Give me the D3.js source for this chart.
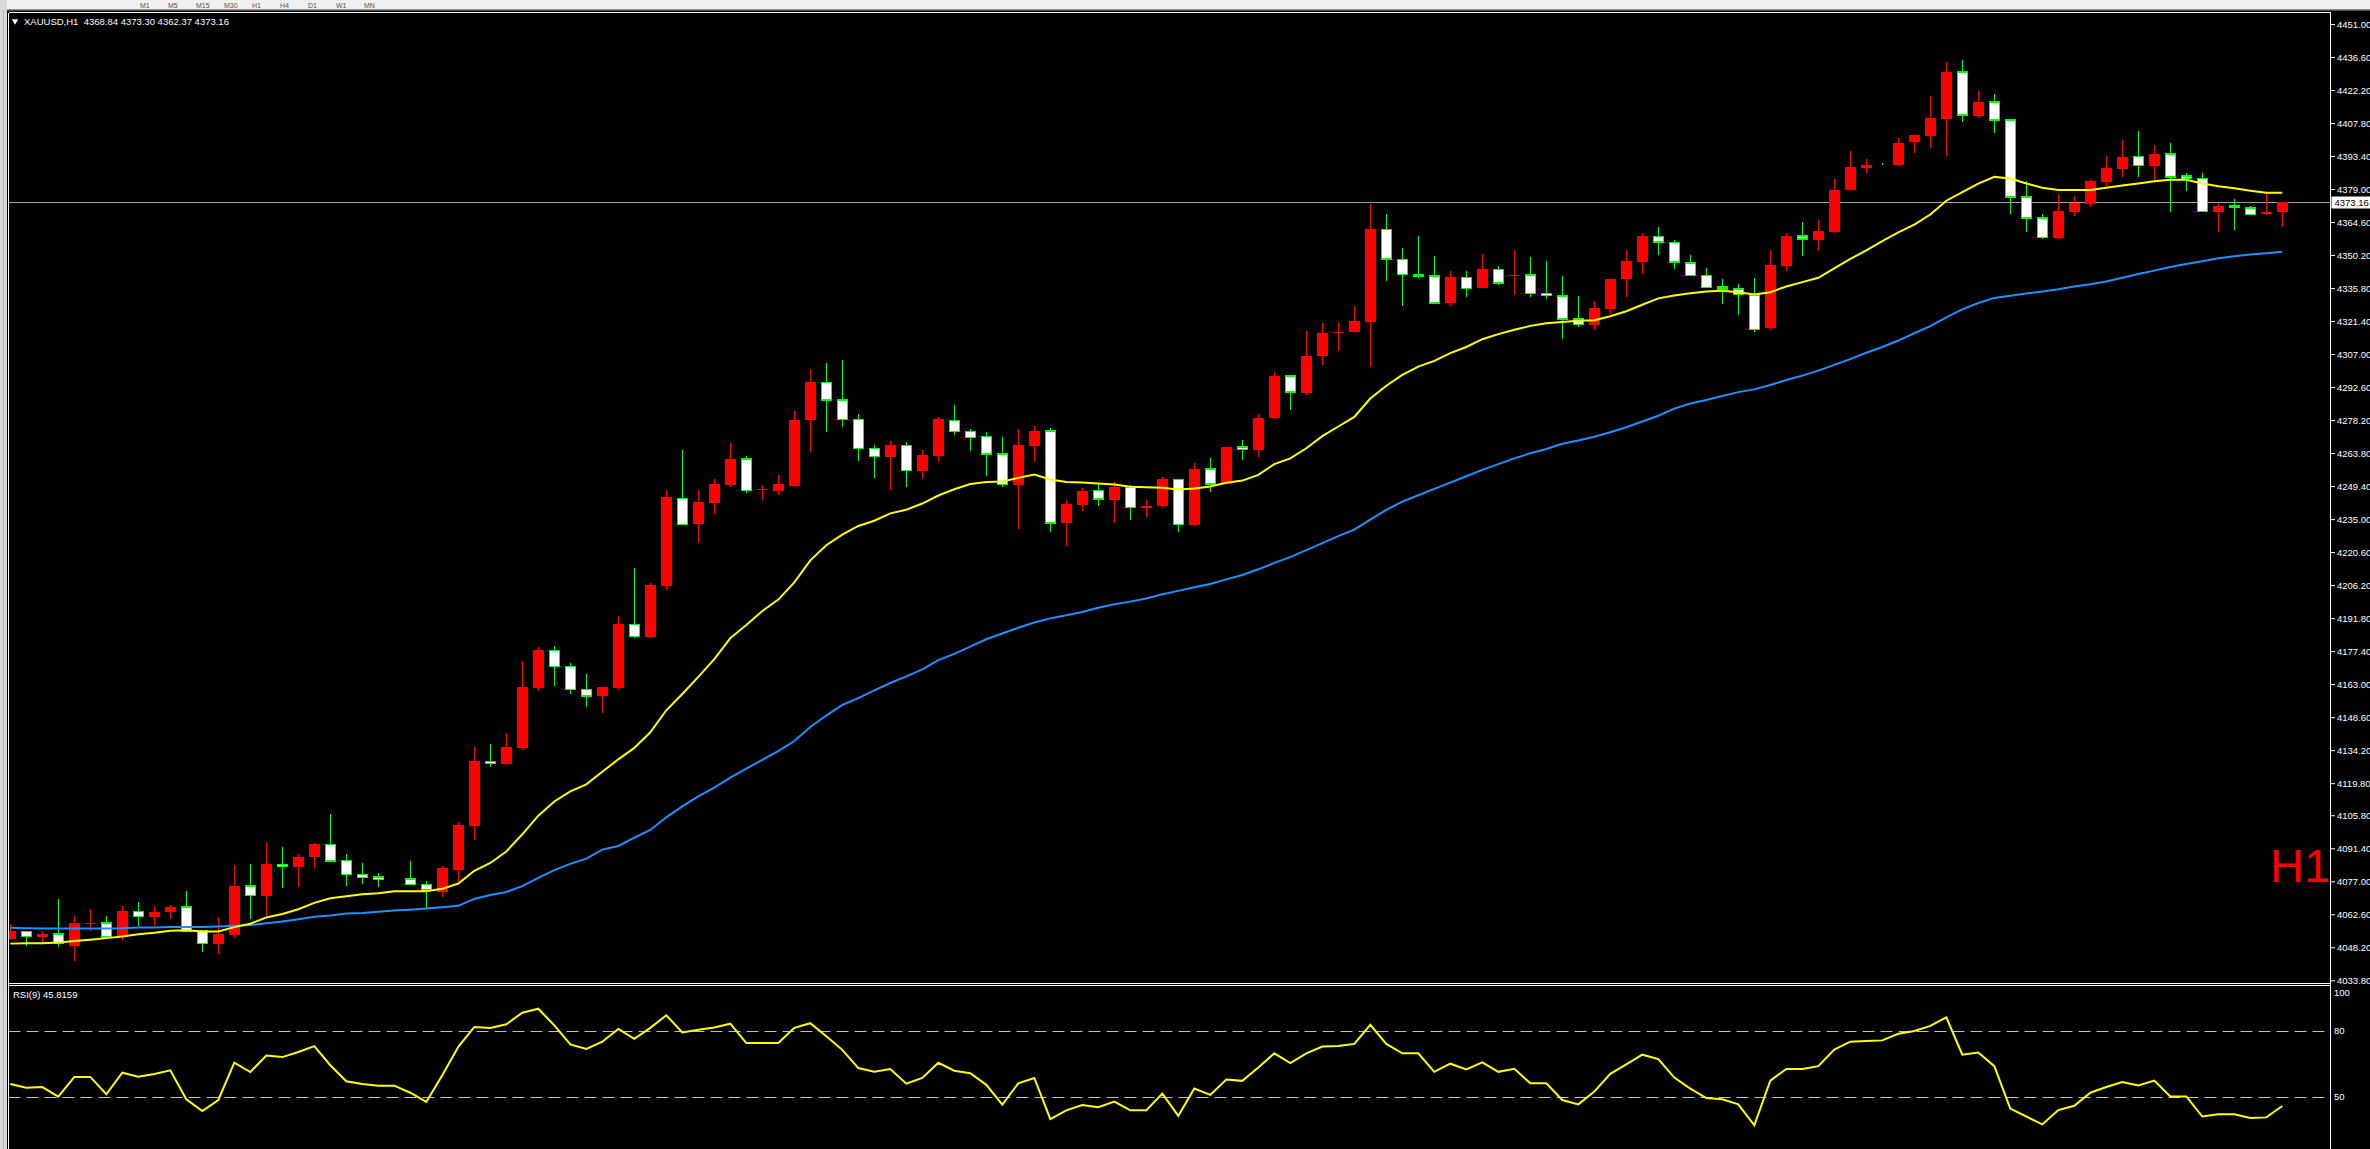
<!DOCTYPE html>
<html>
<head>
<meta charset="utf-8">
<script src="https://cdn.jsdelivr.net/npm/d3@7"></script>
<style>
  html, body { margin: 0; padding: 0; background: #000; overflow: hidden; }
  svg { display: block; }
  text { font-family: "Liberation Sans", Arial, sans-serif; }
</style>
</head>
<body>
<svg id="chart" width="2370" height="1149"></svg>
<script>
// ---- data (H1 bars, oldest first) ----
var symbolName = "XAUUSD,H1";
var lastBar = ["4368.84", "4373.30", "4362.37", "4373.16"];
var bidPrice = 4373.16;
var rsiName = "RSI(9)";
var rsiLast = "45.8159";
var tfLabel = "H1";

var opens = [
  4051.8,4055.1,4052.8,4053.9,4048.9,4058.6,4058.7,4053.1,4063.8,4061.5,4063.4,4065.7,4055.4,4049.8,4053.7,4074.9,4070.5,4084.4,4083.3,4087.4,
  4093.1,4086.1,4080.0,4078.8,4077.9,4077.9,4075.7,4072.4,4082.1,4101.1,4129.3,4128.2,4135.2,4161.4,4177.7,4170.7,4160.7,4157.9,4161.2,4189.0,
  4183.7,4205.8,4244.1,4233.0,4242.1,4249.8,4261.2,4247.7,4247.1,4249.6,4278.1,4294.7,4287.0,4278.5,4265.8,4262.1,4267.1,4256.2,4262.6,4278.1,
  4273.3,4271.0,4263.3,4250.0,4267.1,4273.5,4233.4,4241.2,4247.5,4243.4,4249.1,4240.0,4240.7,4252.3,4232.3,4256.8,4250.4,4266.5,4265.1,4279.0,
  4297.4,4290.1,4306.3,4316.0,4316.8,4321.2,4361.3,4348.2,4341.8,4341.0,4329.3,4340.4,4335.7,4344.0,4341.0,4341.6,4333.5,4332.4,4322.4,4319.9,
  4326.5,4339.6,4347.1,4358.2,4355.7,4346.8,4341.2,4336.2,4335.4,4332.8,4318.3,4345.6,4358.5,4356.9,4360.4,4378.6,4388.3,4389.9,4389.6,4399.7,
  4402.2,4409.7,4430.1,4411.0,4416.9,4409.1,4375.5,4366.4,4357.6,4369.2,4372.3,4382.1,4387.7,4393.1,4389.0,4394.3,4384.6,4383.6,4369.2,4371.7,
  4370.8,4368.2,4368.84
];
var highs = [
  4058.2,4055.3,4055.1,4069.3,4061.8,4065.0,4061.8,4066.2,4067.9,4066.2,4066.6,4072.7,4055.7,4061.2,4084.1,4084.4,4094.1,4091.9,4088.8,4093.9,
  4106.4,4088.8,4085.0,4080.8,4078.0,4085.8,4077.2,4083.8,4102.8,4135.7,4136.9,4141.7,4173.1,4179.0,4179.8,4172.4,4167.5,4161.7,4192.6,4213.6,
  4207.0,4247.8,4265.1,4247.8,4252.6,4268.1,4262.6,4249.8,4254.2,4282.2,4300.4,4303.1,4304.5,4281.0,4267.4,4269.0,4268.7,4265.3,4279.4,4284.7,
  4274.2,4273.1,4270.8,4274.2,4275.8,4274.7,4243.4,4248.5,4250.3,4251.4,4249.8,4243.4,4253.5,4252.6,4259.6,4261.8,4266.5,4269.6,4281.0,4299.3,
  4297.9,4317.1,4320.4,4321.0,4327.9,4372.4,4368.2,4353.2,4358.5,4349.9,4343.2,4343.2,4350.7,4345.4,4352.4,4349.3,4347.4,4341.0,4332.4,4330.2,
  4339.9,4352.4,4359.9,4362.4,4356.8,4350.2,4344.6,4339.9,4337.7,4340.3,4352.2,4359.8,4364.8,4365.4,4383.3,4395.6,4392.1,4390.2,4401.2,4402.5,
  4419.5,4434.5,4435.2,4421.6,4420.4,4409.7,4382.7,4367.9,4377.0,4376.1,4383.0,4393.4,4400.3,4404.4,4398.1,4399.0,4386.2,4386.2,4373.0,4374.5,
  4371.7,4377.7,4373.30
];
var lows = [
  4051.5,4048.9,4050.4,4048.4,4042.2,4055.4,4052.6,4051.1,4057.3,4057.3,4060.6,4054.7,4046.1,4045.3,4052.3,4060.6,4061.3,4074.1,4074.6,4083.0,
  4085.9,4074.9,4076.0,4074.6,4077.8,4075.7,4065.4,4070.2,4076.9,4095.2,4126.8,4128.2,4134.4,4160.1,4162.2,4158.7,4153.1,4150.2,4160.5,4183.3,
  4183.7,4204.0,4232.3,4224.5,4237.1,4249.1,4246.6,4243.2,4245.7,4249.1,4264.4,4272.8,4275.1,4260.5,4253.0,4247.5,4249.1,4252.6,4259.8,4271.5,
  4264.9,4253.7,4249.1,4230.7,4259.8,4229.3,4223.4,4238.4,4240.7,4233.2,4234.8,4235.9,4240.0,4229.3,4231.8,4246.8,4250.4,4260.7,4262.1,4278.5,
  4282.6,4289.0,4302.4,4308.2,4316.8,4301.2,4339.0,4327.9,4340.4,4329.0,4327.9,4331.8,4335.7,4337.1,4332.6,4331.8,4331.0,4313.5,4319.0,4317.4,
  4324.3,4331.8,4342.1,4350.2,4344.0,4341.2,4336.0,4328.8,4324.0,4316.7,4317.7,4343.4,4350.0,4351.9,4359.8,4378.6,4385.8,4389.6,4389.0,4394.6,
  4396.8,4393.4,4408.1,4410.0,4403.4,4367.9,4360.1,4357.3,4357.0,4367.3,4371.1,4379.9,4384.3,4384.3,4382.4,4368.9,4378.3,4369.2,4360.4,4361.0,
  4367.9,4367.6,4362.37
];
var closes = [
  4055.1,4052.9,4054.0,4049.8,4058.9,4058.9,4052.6,4064.0,4061.7,4063.5,4065.7,4055.4,4049.8,4053.9,4074.9,4070.7,4084.6,4083.5,4087.5,4093.1,
  4085.9,4079.9,4078.6,4077.7,4077.9,4075.7,4073.2,4082.8,4101.5,4129.4,4128.3,4135.5,4161.7,4177.9,4170.6,4160.6,4157.9,4161.7,4189.2,4183.7,
  4206.3,4244.6,4232.7,4242.5,4250.3,4261.2,4247.5,4248.2,4250.3,4278.3,4294.7,4287.0,4278.5,4265.8,4262.4,4267.4,4256.2,4263.0,4278.8,4273.3,
  4270.6,4263.3,4250.0,4267.4,4273.5,4233.4,4241.6,4247.3,4243.7,4249.1,4240.0,4240.7,4252.6,4232.6,4256.8,4250.4,4266.5,4265.4,4279.0,4297.4,
  4290.4,4306.3,4316.2,4316.8,4321.5,4361.6,4348.5,4341.8,4341.0,4329.3,4340.7,4335.7,4344.0,4337.9,4341.5,4333.5,4332.6,4322.4,4319.9,4327.1,
  4339.9,4347.7,4358.5,4356.0,4347.1,4341.2,4336.0,4335.4,4332.9,4317.7,4345.9,4358.5,4357.2,4360.7,4378.6,4388.7,4389.6,4389.9,4399.0,4402.5,
  4410.0,4430.1,4411.3,4416.9,4409.1,4375.5,4366.4,4357.9,4369.5,4373.0,4382.4,4388.0,4393.1,4389.3,4394.3,4384.3,4383.6,4369.2,4371.7,4371.1,
  4367.9,4368.8,4373.16
];
// yellow moving average
var maFast = [
  4049.8,4050.0,4050.0,4050.3,4050.9,4051.5,4052.2,4052.9,4053.9,4054.5,4055.4,4055.6,4055.1,4055.1,4057.0,4058.5,4061.2,4062.7,4064.8,4067.6,
  4069.6,4070.5,4071.3,4071.8,4072.6,4072.7,4072.7,4073.7,4076.0,4081.6,4085.0,4090.0,4097.5,4105.6,4111.8,4116.2,4119.3,4124.8,4130.2,4135.2,
  4142.0,4151.6,4158.7,4166.2,4173.9,4183.1,4188.8,4194.9,4199.9,4207.4,4217.0,4223.6,4228.2,4232.0,4234.3,4237.5,4239.1,4241.8,4245.3,4248.0,
  4250.3,4251.2,4251.4,4253.0,4254.4,4252.3,4251.2,4251.0,4250.5,4250.1,4249.1,4248.9,4248.7,4247.9,4248.4,4249.2,4250.9,4251.8,4254.3,4259.0,
  4261.5,4265.9,4271.2,4275.4,4279.6,4287.6,4293.2,4297.9,4301.5,4304.0,4307.4,4310.1,4313.5,4315.7,4317.6,4319.3,4320.4,4321.0,4321.5,4321.8,
  4323.5,4325.7,4328.5,4331.3,4332.6,4333.5,4334.3,4334.6,4334.0,4333.0,4334.0,4336.5,4338.4,4340.3,4344.4,4348.5,4352.2,4356.3,4360.1,4363.5,
  4367.9,4373.9,4377.7,4381.4,4384.3,4383.6,4381.4,4379.6,4378.6,4378.6,4378.6,4379.6,4380.5,4381.4,4382.4,4383.0,4383.0,4381.4,4380.2,4379.3,
  4378.3,4377.4,4377.4
];
// blue moving average
var maSlow = [
  4056.7,4056.5,4056.4,4056.4,4056.4,4056.4,4056.4,4056.5,4056.8,4056.8,4057.0,4057.1,4057.1,4057.3,4057.6,4057.9,4058.7,4059.5,4060.4,4061.5,
  4062.1,4062.9,4063.2,4063.7,4064.2,4064.6,4065.1,4065.7,4066.3,4069.3,4071.0,4072.3,4074.9,4078.5,4081.9,4084.6,4086.9,4090.8,4092.4,4096.0,
  4099.4,4104.9,4109.7,4114.0,4117.9,4122.2,4126.1,4130.0,4133.8,4138.2,4144.3,4149.3,4153.9,4156.9,4160.3,4163.5,4166.4,4169.4,4173.5,4176.2,
  4179.4,4182.6,4185.1,4187.6,4189.9,4191.7,4193.1,4194.5,4196.3,4197.9,4199.0,4200.4,4202.2,4203.7,4205.3,4206.7,4208.7,4210.6,4213.1,4215.9,
  4218.4,4221.5,4224.5,4227.6,4230.4,4234.8,4239.0,4242.6,4245.4,4248.2,4250.9,4253.7,4256.5,4259.0,4261.5,4263.7,4265.6,4267.9,4269.3,4270.9,
  4272.9,4275.1,4277.6,4280.1,4283.2,4285.4,4287.0,4288.7,4290.4,4291.6,4293.5,4295.7,4297.6,4299.8,4302.3,4304.8,4307.6,4310.1,4312.9,4316.1,
  4319.2,4323.0,4326.5,4329.3,4331.5,4332.4,4333.4,4334.3,4335.3,4336.5,4337.5,4338.7,4340.3,4341.9,4343.4,4345.0,4346.3,4347.5,4348.8,4349.7,
  4350.4,4351.0,4351.6
];
var rsi9 = [
  55.8,54.1,54.4,50.0,59.0,59.0,51.1,60.9,59.1,60.3,62.0,48.8,43.5,48.5,65.5,61.2,68.7,68.0,70.3,73.0,
  64.3,57.0,55.8,55.0,55.0,51.8,47.6,59.7,72.7,81.7,81.2,82.9,88.2,90.0,82.4,73.8,71.7,75.0,80.8,76.3,
  81.3,87.0,79.2,80.4,81.5,83.2,74.4,74.4,74.4,81.3,83.4,77.5,71.3,63.0,61.4,62.6,55.9,58.5,65.4,61.8,
  60.7,55.4,46.4,56.1,58.5,39.8,43.8,46.2,45.2,47.8,43.8,43.8,51.4,41.3,53.7,50.8,57.8,57.2,63.3,69.7,
  65.3,69.7,72.8,73.1,74.0,82.7,74.0,69.7,69.7,61.3,65.0,62.4,65.6,61.3,62.7,56.1,56.1,48.5,46.5,52.3,
  60.4,64.7,69.1,67.1,58.7,53.7,49.4,48.8,46.5,37.0,57.3,62.6,62.6,63.9,71.4,75.0,75.3,75.6,78.6,79.9,
  82.2,86.1,69.1,70.1,63.9,44.6,41.0,37.4,43.9,45.9,51.8,54.4,56.7,55.1,57.3,50.1,50.1,41.0,42.0,42.0,
  40.3,40.6,45.8
];
var priceTicks = [4451.00,4436.60,4422.20,4407.80,4393.40,4379.00,4364.60,4350.20,4335.80,4321.40,
  4307.00,4292.60,4278.20,4263.80,4249.40,4235.00,4220.60,4206.20,4191.80,4177.40,
  4163.00,4148.60,4134.20,4119.80,4105.80,4091.40,4077.00,4062.60,4048.20,4033.80];
var rsiTicks = [100, 80, 50];
var rsiLevels = [80, 50];
var periods = ["M1", "M5", "M15", "M30", "H1", "H4", "D1", "W1", "MN"];

// ---- layout ----
var W = 2370, H = 1149;
var frameL = 8.5, frameR = 2330.5, frameT = 12.5, divTop = 983.5, divBot = 985.5;
var upColor = "#ff0000", downFill = "#ffffff", downLine = "#00ff00";

var svg = d3.select("#chart");

var x = d3.scaleLinear().domain([0, opens.length - 1]).range([10.3, 10.3 + 16 * (opens.length - 1)]);
var y = d3.scaleLinear().domain([4033.8, 4451]).range([980.3, 24]);
var yr = d3.scaleLinear().domain([0, 100]).range([1206.7, 986.7]);

svg.append("rect").attr("width", W).attr("height", H).attr("fill", "#000");

// toolbar strip and left margin
svg.append("rect").attr("x", 0).attr("y", 0).attr("width", W).attr("height", 9.5).attr("fill", "#f0f0f0");
svg.append("line").attr("x1", 0).attr("x2", W).attr("y1", 10).attr("y2", 10).attr("stroke", "#a0a0a0");
svg.selectAll(".tf").data(periods).enter().append("text")
  .attr("class", "tf")
  .attr("x", function (d, i) { return 140 + i * 28; })
  .attr("y", 8)
  .attr("font-size", 7)
  .attr("fill", "#555")
  .text(function (d) { return d; });
svg.append("rect").attr("x", 0).attr("y", 0).attr("width", 7).attr("height", H).attr("fill", "#d8d8d8");
svg.append("line").attr("x1", 3.5).attr("x2", 3.5).attr("y1", 10).attr("y2", H).attr("stroke", "#b0b0b0");

var defs = svg.append("defs");
defs.append("clipPath").attr("id", "clipPrice").append("rect")
  .attr("x", frameL + 0.5).attr("y", frameT + 0.5).attr("width", frameR - frameL - 1).attr("height", divTop - frameT - 1);
defs.append("clipPath").attr("id", "clipRsi").append("rect")
  .attr("x", frameL + 0.5).attr("y", divBot + 0.5).attr("width", frameR - frameL - 1).attr("height", H - divBot);

// ---- price panel ----
var gp = svg.append("g").attr("clip-path", "url(#clipPrice)");

gp.append("line")
  .attr("x1", frameL).attr("x2", frameR)
  .attr("y1", Math.round(y(bidPrice)) + 0.5).attr("y2", Math.round(y(bidPrice)) + 0.5)
  .attr("stroke", "#a0a0a0").attr("stroke-width", 1);

var bars = d3.range(opens.length).map(function (i) {
  return { i: i, o: opens[i], h: highs[i], l: lows[i], c: closes[i] };
});

var candle = gp.selectAll(".bar").data(bars).enter().append("g")
  .attr("class", "bar")
  .attr("shape-rendering", "crispEdges");

candle.append("line")
  .attr("x1", function (d) { return Math.round(x(d.i)) + 0.5; })
  .attr("x2", function (d) { return Math.round(x(d.i)) + 0.5; })
  .attr("y1", function (d) { return y(d.h); })
  .attr("y2", function (d) { return y(d.l); })
  .attr("stroke", function (d) { return d.c > d.o ? upColor : downLine; })
  .attr("stroke-width", 1);

candle.filter(function (d) { return d.c > d.o; }).append("rect")
  .attr("x", function (d) { return Math.round(x(d.i)) - 5; })
  .attr("width", 11)
  .attr("y", function (d) { return y(d.c); })
  .attr("height", function (d) { return Math.max(1.5, y(d.o) - y(d.c)); })
  .attr("fill", upColor);

candle.filter(function (d) { return d.c <= d.o; }).append("rect")
  .attr("x", function (d) { return Math.round(x(d.i)) - 4.5; })
  .attr("width", 10)
  .attr("y", function (d) { return y(d.o); })
  .attr("height", function (d) { return Math.max(0, y(d.c) - y(d.o)); })
  .attr("fill", downFill)
  .attr("stroke", downLine)
  .attr("stroke-width", 1.5);

var maLine = d3.line()
  .x(function (d, i) { return x(i); })
  .y(function (d) { return y(d); });

gp.append("path").datum(maSlow)
  .attr("d", maLine).attr("fill", "none")
  .attr("stroke", "#1e90ff").attr("stroke-width", 2);
gp.append("path").datum(maFast)
  .attr("d", maLine).attr("fill", "none")
  .attr("stroke", "#ffff00").attr("stroke-width", 2);

// ---- rsi panel ----
var gr = svg.append("g").attr("clip-path", "url(#clipRsi)");

gr.selectAll(".lvl").data(rsiLevels).enter().append("line")
  .attr("x1", frameL).attr("x2", frameR)
  .attr("y1", function (d) { return Math.round(yr(d)) + 0.5; })
  .attr("y2", function (d) { return Math.round(yr(d)) + 0.5; })
  .attr("stroke", "#c0c0c0").attr("stroke-width", 1)
  .attr("stroke-dasharray", "12,6");

gr.append("path").datum(rsi9)
  .attr("d", d3.line().x(function (d, i) { return x(i); }).y(function (d) { return yr(d); }))
  .attr("fill", "none").attr("stroke", "#ffff00").attr("stroke-width", 2);

// ---- frames ----
var frame = svg.append("g").attr("stroke", "#ffffff").attr("stroke-width", 1).attr("shape-rendering", "crispEdges");
frame.append("line").attr("x1", frameL).attr("x2", frameR).attr("y1", frameT).attr("y2", frameT);
frame.append("line").attr("x1", frameL).attr("x2", frameL).attr("y1", frameT).attr("y2", H);
frame.append("line").attr("x1", frameR).attr("x2", frameR).attr("y1", frameT).attr("y2", H);
frame.append("line").attr("x1", frameL).attr("x2", frameR).attr("y1", divTop).attr("y2", divTop);
frame.append("line").attr("x1", frameL).attr("x2", frameR).attr("y1", divBot).attr("y2", divBot);

// ---- axes ----
var priceAxis = d3.axisRight(y)
  .tickValues(priceTicks)
  .tickFormat(d3.format(".2f"))
  .tickSize(4)
  .tickPadding(2);

var ga = svg.append("g")
  .attr("transform", "translate(" + (frameR + 0.5) + ",0)")
  .call(priceAxis);
ga.select(".domain").remove();
ga.selectAll(".tick line").attr("stroke", "#ffffff");
ga.selectAll(".tick text")
  .attr("fill", "#ffffff")
  .attr("font-size", 9.5)
  .attr("font-family", "Liberation Sans, Arial, sans-serif");

// bid label
var bidY = Math.round(y(bidPrice)) + 0.5;
svg.append("rect")
  .attr("x", frameR + 1).attr("y", bidY - 6)
  .attr("width", W - frameR - 1).attr("height", 12)
  .attr("fill", "#ffffff");
svg.append("text")
  .attr("x", frameR + 4).attr("y", bidY + 3.5)
  .attr("font-size", 9.5).attr("fill", "#000")
  .text(d3.format(".2f")(bidPrice));

var rsiAxis = d3.axisRight(yr)
  .tickValues(rsiTicks)
  .tickFormat(d3.format("d"))
  .tickSize(0)
  .tickPadding(3);
var gra = svg.append("g")
  .attr("transform", "translate(" + (frameR + 0.5) + ",0)")
  .call(rsiAxis);
gra.select(".domain").remove();
gra.selectAll(".tick text")
  .attr("fill", "#ffffff")
  .attr("font-size", 9.5)
  .attr("font-family", "Liberation Sans, Arial, sans-serif")
  .attr("dy", function (d) { return d === 100 ? "0.95em" : "0.32em"; });

// ---- titles ----
svg.append("path")
  .attr("d", d3.symbol().type(d3.symbolTriangle).size(18)())
  .attr("transform", "translate(15,21) rotate(180)")
  .attr("fill", "#ffffff");
svg.append("text")
  .attr("x", 24).attr("y", 25)
  .attr("font-size", 9.5).attr("fill", "#ffffff")
  .attr("xml:space", "preserve")
  .text(symbolName + "  " + lastBar.join(" "));

svg.append("text")
  .attr("x", 13).attr("y", 998)
  .attr("font-size", 9.5).attr("fill", "#ffffff")
  .text(rsiName + " " + rsiLast);

svg.append("text")
  .attr("x", 2270).attr("y", 882)
  .attr("font-size", 47).attr("fill", "#ff0000")
  .text(tfLabel);
</script>
</body>
</html>
